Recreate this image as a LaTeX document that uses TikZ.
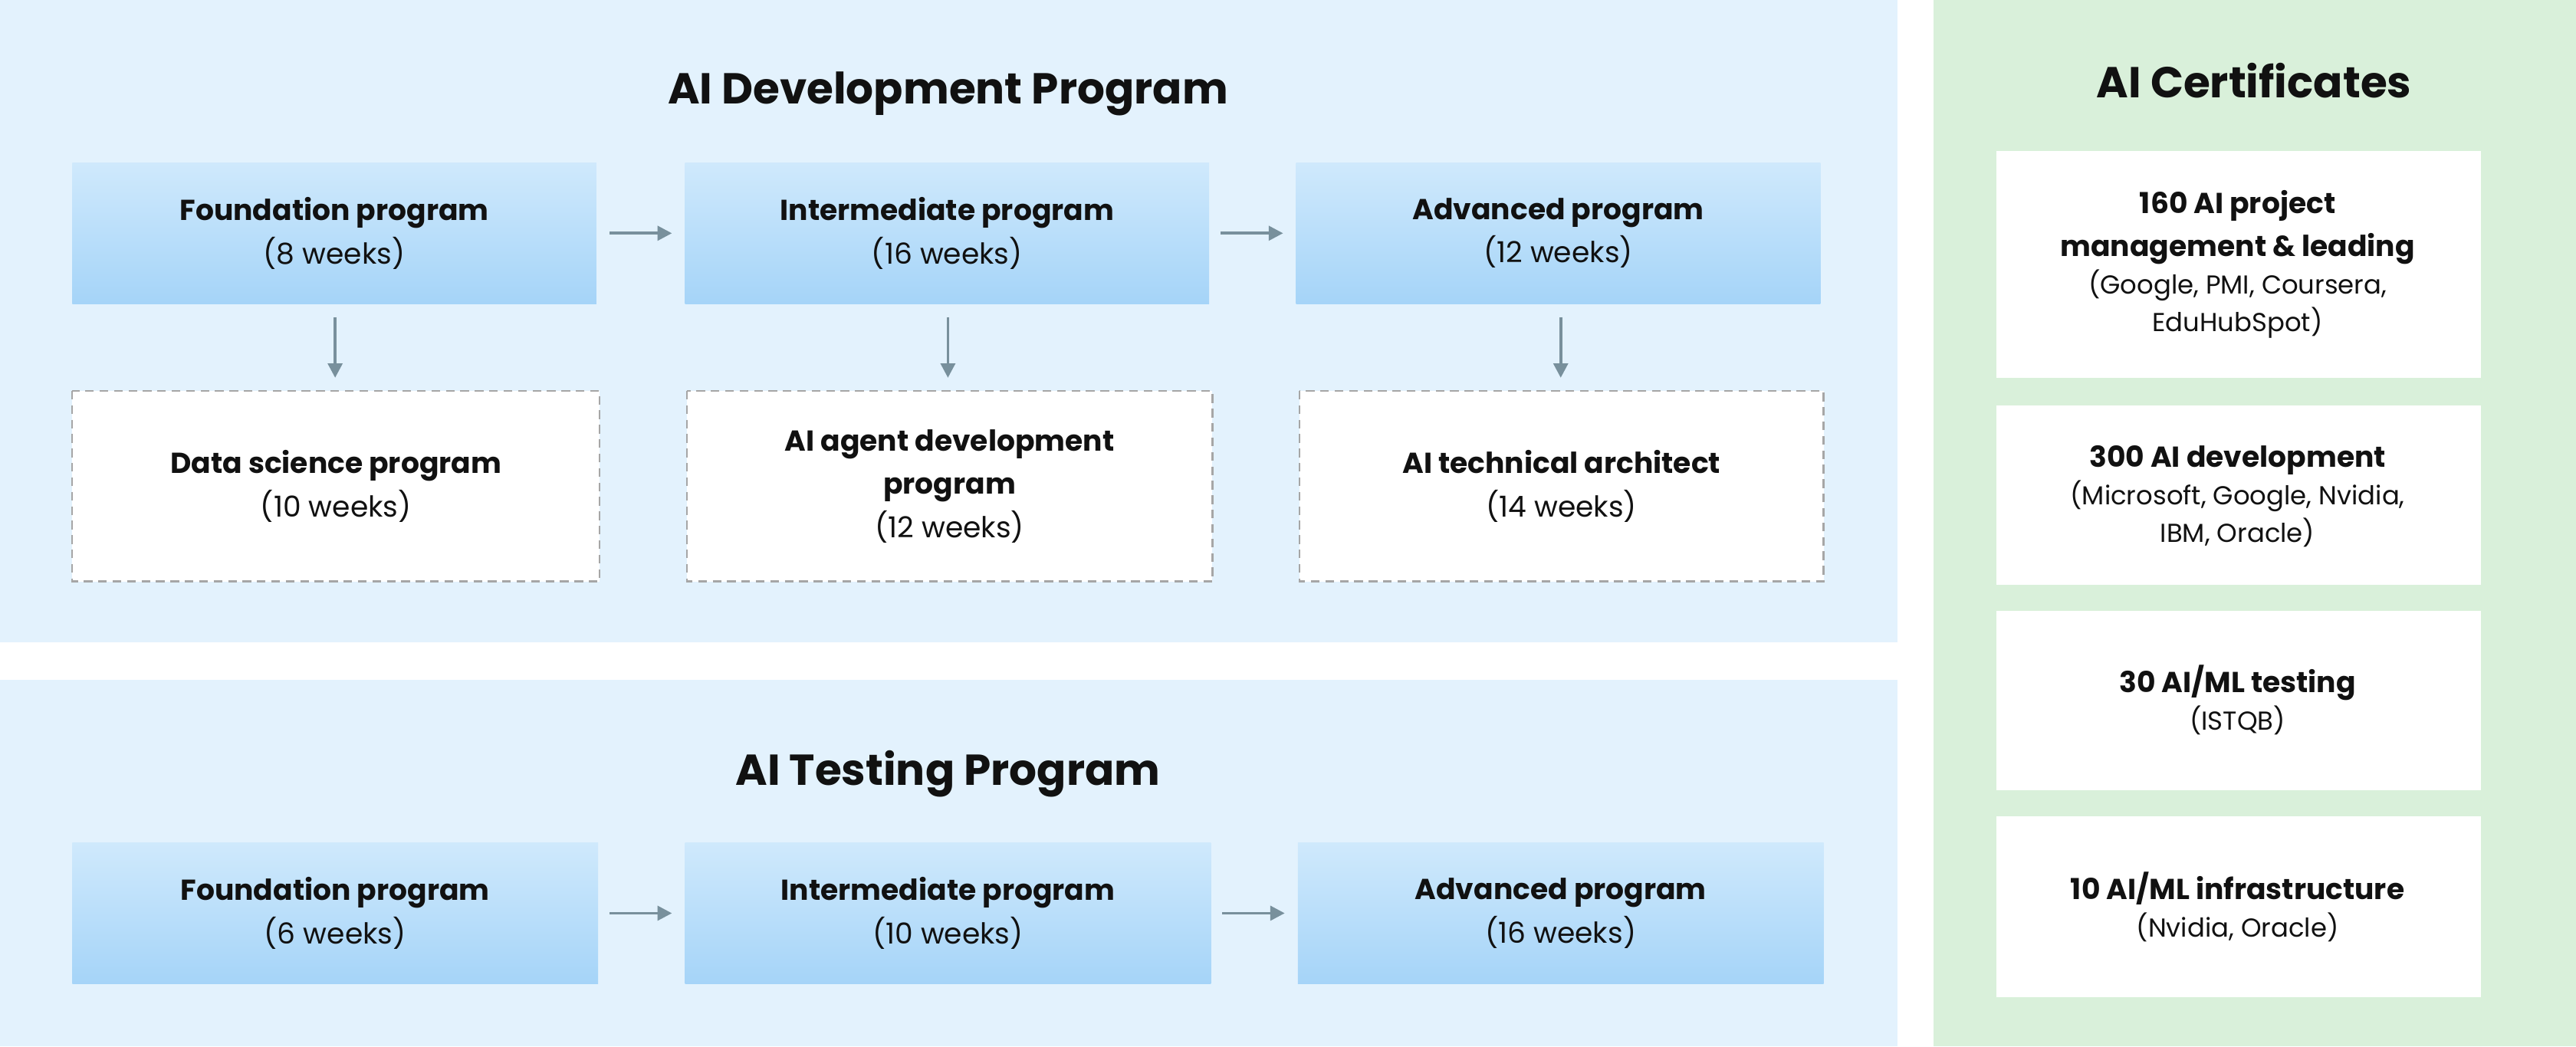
\documentclass[tikz,border=0pt]{standalone}
\usepackage{fontspec}
\setmainfont{Poppins}
\usetikzlibrary{arrows.meta}
\definecolor{panelb}{HTML}{E3F2FD}
\definecolor{panelg}{HTML}{D9F0DA}
\definecolor{gtop}{HTML}{CFE9FC}
\definecolor{gbot}{HTML}{A5D4F8}
\definecolor{arr}{HTML}{78909C}
\definecolor{txt}{HTML}{111111}
\begin{document}
\begin{tikzpicture}[x=0.02cm,y=-0.02cm,
  prog/.style={top color=gtop,bottom color=gbot,draw=none},
  dbox/.style={fill=white,draw=gray!70,line width=0.6pt,dash pattern=on 3pt off 2pt},
  cert/.style={fill=white,draw=none},
  lbl/.style={align=center,font=\fontsize{10}{15}\selectfont,text=txt},
  ttl/.style={font=\fontsize{15}{18}\selectfont\bfseries,text=txt},
  ar/.style={-{Triangle[length=5pt,width=5pt]},arr,line width=1pt}]
\useasboundingbox (0,0) rectangle (1568,637);
\fill[white] (0,0) rectangle (1568,637);
\fill[panelb] (0,0) rectangle (1155,391);
\fill[panelb] (0,414) rectangle (1155,637);
\fill[panelg] (1177,0) rectangle (1568,637);
\node[ttl] (t1) at (577,57) {AI Development Program};
\node[ttl] (t2) at (577,471) {AI Testing Program};
\node[ttl] (t3) at (1372,49) {AI Certificates};
% dev row
\path[prog] (44,99) rectangle (363,185);
\path[prog] (417,99) rectangle (736,185);
\path[prog] (789,99) rectangle (1108,185);
\node[lbl] (a1) at (203.5,142) {\textbf{Foundation program}\\(8 weeks)};
\node[lbl] (a2) at (576.5,142) {\textbf{Intermediate program}\\(16 weeks)};
\node[lbl] (a3) at (948.5,142) {\textbf{Advanced program}\\(12 weeks)};
\coordinate (h1s) at (371,142); \coordinate (h1e) at (409,142);
\coordinate (h2s) at (743,142); \coordinate (h2e) at (781,142);
\draw[ar] (h1s) -- (h1e); \draw[ar] (h2s) -- (h2e);
\path[dbox] (44,238) rectangle (365,354);
\path[dbox] (418,238) rectangle (738,354);
\path[dbox] (791,238) rectangle (1110,354);
\node[lbl] (b1) at (204.5,296) {\textbf{Data science program}\\(10 weeks)};
\node[lbl] (b2) at (578,296) {\textbf{AI agent development}\\\textbf{program}\\(12 weeks)};
\node[lbl] (b3) at (950.5,296) {\textbf{AI technical architect}\\(14 weeks)};
\foreach \x/\n in {204/1,577/2,950/3}{
  \coordinate (v\n s) at (\x,193); \coordinate (v\n e) at (\x,230);
  \draw[ar] (v\n s) -- (v\n e);}
% testing row
\path[prog] (44,513) rectangle (364,599);
\path[prog] (417,513) rectangle (737,599);
\path[prog] (790,513) rectangle (1110,599);
\node[lbl] (c1) at (204,556) {\textbf{Foundation program}\\(6 weeks)};
\node[lbl] (c2) at (577,556) {\textbf{Intermediate program}\\(10 weeks)};
\node[lbl] (c3) at (950,556) {\textbf{Advanced program}\\(16 weeks)};
\coordinate (h3s) at (371,556); \coordinate (h3e) at (409,556);
\coordinate (h4s) at (744,556); \coordinate (h4e) at (782,556);
\draw[ar] (h3s) -- (h3e); \draw[ar] (h4s) -- (h4e);
% certificates
\path[cert] (1215,92) rectangle (1510,230);
\path[cert] (1215,247) rectangle (1510,356);
\path[cert] (1215,372) rectangle (1510,481);
\path[cert] (1215,497) rectangle (1510,607);
\node[lbl] (d1) at (1362,161) {\textbf{160 AI project}\\\textbf{management \& leading}\\[-2pt]{\fontsize{9}{14}\selectfont(Google, PMI, Coursera,}\\[-2pt]{\fontsize{9}{14}\selectfont EduHubSpot)}};
\node[lbl] (d2) at (1362,302) {\textbf{300 AI development}\\[-2pt]{\fontsize{9}{14}\selectfont(Microsoft, Google, Nvidia,}\\[-2pt]{\fontsize{9}{14}\selectfont IBM, Oracle)}};
\node[lbl] (d3) at (1362,426) {\textbf{30 AI/ML testing}\\[-2pt]{\fontsize{9}{14}\selectfont(ISTQB)}};
\node[lbl] (d4) at (1362,552) {\textbf{10 AI/ML infrastructure}\\[-2pt]{\fontsize{9}{14}\selectfont(Nvidia, Oracle)}};
\end{tikzpicture}
\end{document}
